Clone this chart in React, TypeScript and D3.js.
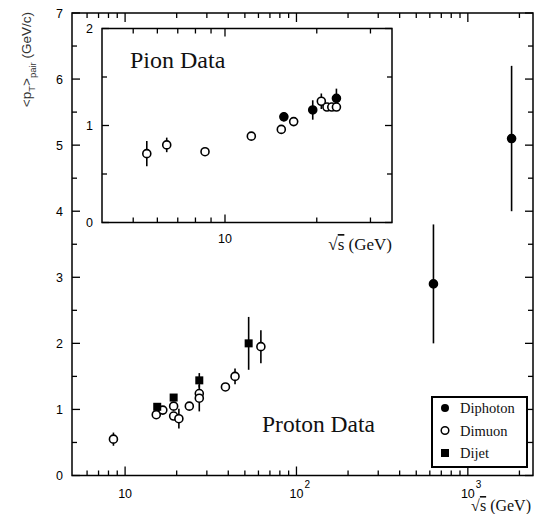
import React from "react";
import * as d3 from "d3";

// ---- Main (proton) data ----
const dimuonX = [8.55, 15.2, 16.6, 19.2, 19.2, 20.6, 23.7, 27.1, 27.1, 38.5, 43.8, 62];
const dimuonY = [0.55, 0.92, 0.99, 1.05, 0.9, 0.86, 1.05, 1.24, 1.17, 1.34, 1.5, 1.95];
const dimuonErr = [0.1, 0, 0, 0, 0, 0.15, 0, 0.07, 0.2, 0, 0.12, 0.25];

const dijetX = [15.4, 19.2, 27.1, 52.6];
const dijetY = [1.04, 1.18, 1.44, 2.0];
const dijetErr = [0, 0, 0.11, 0.4];

const diphotonX = [630, 1800];
const diphotonY = [2.9, 5.1];
const diphotonErr = [0.9, 1.1];

// ---- Inset (pion) data ----
const pionOpenX = [5.54, 6.44, 8.6, 12.2, 15.3, 16.8, 20.7, 21.6, 22.4, 23.2];
const pionOpenY = [0.71, 0.8, 0.73, 0.89, 0.96, 1.04, 1.25, 1.19, 1.19, 1.19];
const pionOpenErr = [0.13, 0.075, 0, 0, 0, 0, 0.08, 0, 0, 0];

const pionFilledX = [15.6, 19.4, 23.2];
const pionFilledY = [1.09, 1.16, 1.28];
const pionFilledErr = [0.05, 0.1, 0.1];

const mainYTicks = [0, 1, 2, 3, 4, 5, 6, 7];
const insetYTicks = [0, 1, 2];
const mainXLabels = [10, 100, 1000];
const legendLabels = ["Diphoton", "Dimuon", "Dijet"];

const W = 537;
const H = 514;
const sans = "'Liberation Sans', Arial, Helvetica, sans-serif";
const serif = "'Liberation Serif', 'Times New Roman', serif";

const Circle = ({ cx, cy, filled }: { cx: number; cy: number; filled: boolean }) => (
  <circle cx={cx} cy={cy} r={4} fill={filled ? "#000" : "#fff"} stroke="#000" strokeWidth={1.6} />
);
const Square = ({ cx, cy }: { cx: number; cy: number }) => (
  <rect x={cx - 4} y={cy - 4} width={8} height={8} fill="#000" />
);

export default function App() {
  const x = d3.scaleLog().domain([4.9, 2400]).range([72, 533]);
  const y = d3.scaleLinear().domain([0, 7]).range([475.5, 13]);
  const xi = d3.scaleLog().domain([3.95, 35.3]).range([102, 392]);
  const yi = d3.scaleLinear().domain([0, 2]).range([222.5, 28.5]);

  const [x0, x1] = x.range();
  const [y0, y1] = y.range();
  const [xi0, xi1] = xi.range();
  const [yi0, yi1] = yi.range();

  const isDecade = (v: number) => Math.abs(Math.log10(v) - Math.round(Math.log10(v))) < 1e-9;
  const mainXTicks = x.ticks().filter((t) => t >= 5.5);
  const insetXTicks = xi.ticks().filter((t) => t >= 4.5);
  const mainYAll = d3.range(0, 7.01, 0.5);
  const insetYAll = d3.range(0, 2.01, 0.5);

  const err = (sx: any, sy: any, xs: number[], ys: number[], es: number[], key: string) =>
    xs.map((v, i) =>
      es[i] > 0 ? (
        <line key={key + i} x1={sx(v)} x2={sx(v)} y1={sy(ys[i] - es[i])} y2={sy(ys[i] + es[i])} stroke="#000" strokeWidth={1.6} />
      ) : null
    );

  return (
    <svg width={W} height={H} style={{ position: "absolute", left: 0, top: 0, background: "#fff" }}>
      {/* main frame */}
      <rect x={x0} y={y1} width={x1 - x0} height={y0 - y1} fill="none" stroke="#000" strokeWidth={1.5} />
      {mainXTicks.map((t) => {
        const L = isDecade(t) ? 9 : 5;
        return (
          <g key={"mx" + t}>
            <line x1={x(t)} x2={x(t)} y1={y0} y2={y0 - L} stroke="#000" strokeWidth={1.3} />
            <line x1={x(t)} x2={x(t)} y1={y1} y2={y1 + L} stroke="#000" strokeWidth={1.3} />
          </g>
        );
      })}
      {mainYAll.map((t) => {
        const L = Number.isInteger(t) ? 8 : 5;
        return (
          <g key={"my" + t}>
            <line x1={x0} x2={x0 + L} y1={y(t)} y2={y(t)} stroke="#000" strokeWidth={1.3} />
            <line x1={x1} x2={x1 - L} y1={y(t)} y2={y(t)} stroke="#000" strokeWidth={1.3} />
          </g>
        );
      })}
      {mainYTicks.map((t) => (
        <text key={"myl" + t} x={63} y={y(t) + 4.5} textAnchor="end" fontFamily={sans} fontSize={12.5} fill="#000">
          {t}
        </text>
      ))}
      {mainXLabels.map((t) => {
        const e = Math.round(Math.log10(t));
        return (
          <g key={"mxl" + t}>
            <text x={x(t)} y={498} textAnchor="middle" fontFamily={sans} fontSize={12.5} fill="#000">
              10
            </text>
            {e > 1 && (
              <text x={x(t) + 8} y={488} fontFamily={sans} fontSize={10} fill="#000">
                {e}
              </text>
            )}
          </g>
        );
      })}
      <text x={531} y={511} textAnchor="end" fontFamily={serif} fontSize={16} fill="#111">
        √<tspan textDecoration="overline">s</tspan> (GeV)
      </text>
      <text transform="translate(31,12) rotate(-90)" textAnchor="end" fontFamily={sans} fontSize={13.5} fill="#333">
        {"<p"}
        <tspan fontSize={9.5} dy={4}>T</tspan>
        <tspan dy={-4}>{">"}</tspan>
        <tspan fontSize={9.5} dy={5}>pair</tspan>
        <tspan dy={-5}> (GeV/c)</tspan>
      </text>

      {/* main data */}
      {err(x, y, dimuonX, dimuonY, dimuonErr, "de")}
      {err(x, y, dijetX, dijetY, dijetErr, "je")}
      {err(x, y, diphotonX, diphotonY, diphotonErr, "pe")}
      {dimuonX.map((v, i) => <Circle key={"dm" + i} cx={x(v)} cy={y(dimuonY[i])} filled={false} />)}
      {dijetX.map((v, i) => <Square key={"dj" + i} cx={x(v)} cy={y(dijetY[i])} />)}
      {diphotonX.map((v, i) => <Circle key={"dp" + i} cx={x(v)} cy={y(diphotonY[i])} filled={true} />)}

      <text x={262} y={432} fontFamily={serif} fontSize={23.5} fill="#111">
        Proton Data
      </text>

      {/* legend */}
      <rect x={432} y={397} width={95} height={70} fill="#fff" stroke="#000" strokeWidth={2} />
      {legendLabels.map((lab, i) => {
        const cy = 408 + i * 22.5;
        return (
          <g key={"lg" + i}>
            {i === 0 && <circle cx={445} cy={cy} r={4} fill="#000" />}
            {i === 1 && <circle cx={445} cy={cy} r={3.8} fill="#fff" stroke="#000" strokeWidth={1.5} />}
            {i === 2 && <rect x={441} y={cy - 4} width={8} height={8} fill="#000" />}
            <text x={460} y={cy + 5} fontFamily={serif} fontSize={14.5} fill="#111">
              {lab}
            </text>
          </g>
        );
      })}

      {/* inset */}
      <rect x={xi0} y={yi1} width={xi1 - xi0} height={yi0 - yi1} fill="#fff" stroke="#000" strokeWidth={1.5} />
      {insetXTicks.map((t) => {
        const L = isDecade(t) ? 8 : 5;
        return (
          <g key={"ix" + t}>
            <line x1={xi(t)} x2={xi(t)} y1={yi0} y2={yi0 - L} stroke="#000" strokeWidth={1.3} />
            <line x1={xi(t)} x2={xi(t)} y1={yi1} y2={yi1 + L} stroke="#000" strokeWidth={1.3} />
          </g>
        );
      })}
      {insetYAll.map((t) => {
        const L = Number.isInteger(t) ? 7 : 5;
        return (
          <g key={"iy" + t}>
            <line x1={xi0} x2={xi0 + L} y1={yi(t)} y2={yi(t)} stroke="#000" strokeWidth={1.3} />
            <line x1={xi1} x2={xi1 - L} y1={yi(t)} y2={yi(t)} stroke="#000" strokeWidth={1.3} />
          </g>
        );
      })}
      {insetYTicks.map((t) => (
        <text key={"iyl" + t} x={93} y={yi(t) + 4.5} textAnchor="end" fontFamily={sans} fontSize={12.5} fill="#000">
          {t}
        </text>
      ))}
      <text x={xi(10)} y={243} textAnchor="middle" fontFamily={sans} fontSize={12.5} fill="#000">
        10
      </text>
      <text x={392} y={250} textAnchor="end" fontFamily={serif} fontSize={17} fill="#111">
        √<tspan textDecoration="overline">s</tspan> (GeV)
      </text>
      <text x={130} y={68} fontFamily={serif} fontSize={24} fill="#111">
        Pion Data
      </text>
      {err(xi, yi, pionOpenX, pionOpenY, pionOpenErr, "poe")}
      {err(xi, yi, pionFilledX, pionFilledY, pionFilledErr, "pfe")}
      {pionOpenX.map((v, i) => <Circle key={"po" + i} cx={xi(v)} cy={yi(pionOpenY[i])} filled={false} />)}
      {pionFilledX.map((v, i) => <Circle key={"pf" + i} cx={xi(v)} cy={yi(pionFilledY[i])} filled={true} />)}
    </svg>
  );
}
